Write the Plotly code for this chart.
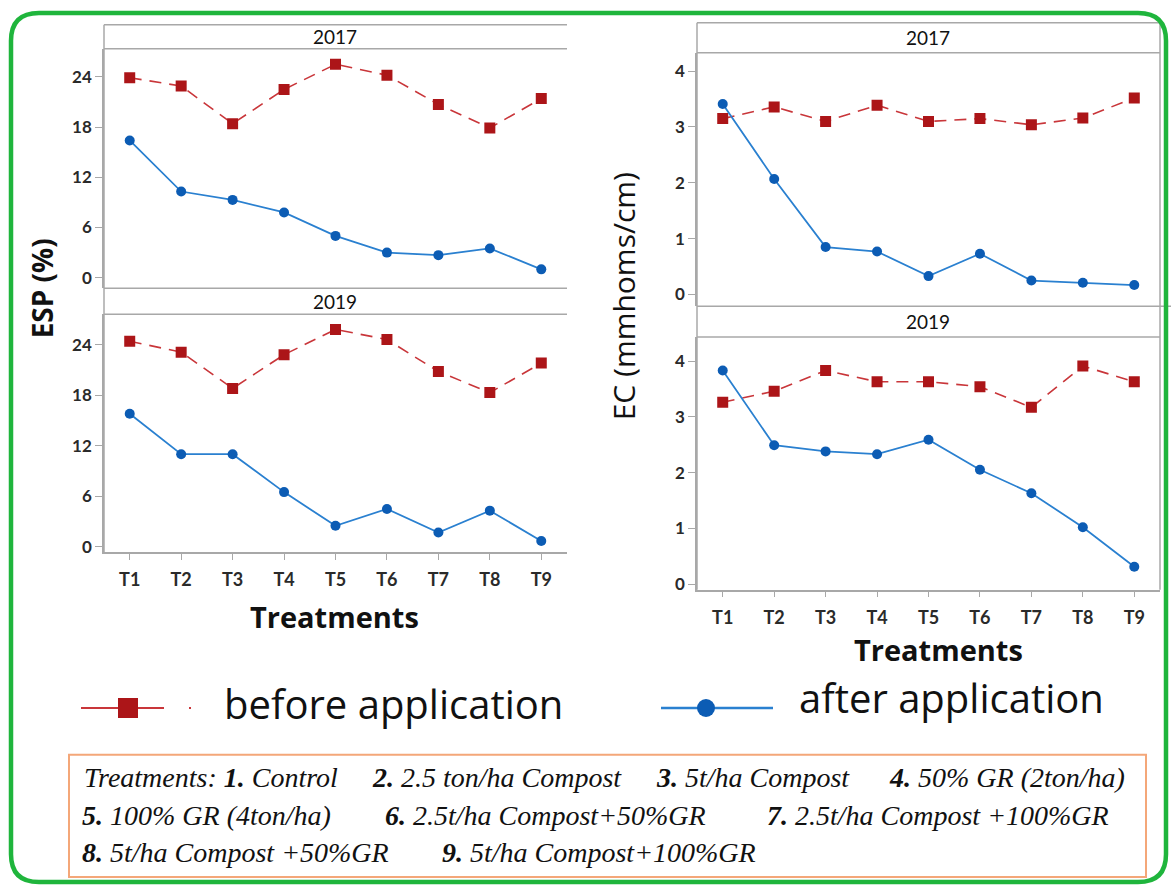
import plotly.graph_objects as go

W, H = 1171, 890

treatments = ["T1", "T2", "T3", "T4", "T5", "T6", "T7", "T8", "T9"]
esp_2017_before = [23.9, 22.9, 18.4, 22.5, 25.5, 24.2, 20.7, 17.9, 21.4]
esp_2017_after = [16.4, 10.3, 9.3, 7.8, 5.0, 3.0, 2.7, 3.5, 1.0]
esp_2019_before = [24.4, 23.1, 18.8, 22.8, 25.8, 24.6, 20.8, 18.3, 21.8]
esp_2019_after = [15.8, 11.0, 11.0, 6.5, 2.5, 4.5, 1.7, 4.3, 0.7]
ec_2017_before = [3.15, 3.36, 3.10, 3.39, 3.10, 3.15, 3.04, 3.16, 3.52]
ec_2017_after = [3.41, 2.07, 0.85, 0.77, 0.33, 0.73, 0.25, 0.21, 0.17]
ec_2019_before = [3.26, 3.46, 3.83, 3.63, 3.63, 3.54, 3.17, 3.91, 3.63]
ec_2019_after = [3.83, 2.49, 2.38, 2.33, 2.59, 2.05, 1.63, 1.02, 0.31]
esp_ticks = [0, 6, 12, 18, 24]
ec_ticks = [0, 1, 2, 3, 4]
legend_names = ["before application", "after application"]
treatment_notes = [
    ["Treatments: <b>1.</b> Control", "<b>2.</b> 2.5 ton/ha Compost", "<b>3.</b> 5t/ha Compost", "<b>4.</b> 50% GR (2ton/ha)"],
    ["<b>5.</b> 100% GR (4ton/ha)", "<b>6.</b> 2.5t/ha Compost+50%GR", "<b>7.</b> 2.5t/ha Compost +100%GR"],
    ["<b>8.</b> 5t/ha Compost +50%GR", "<b>9.</b> 5t/ha Compost+100%GR"],
]

RED_LINE = "#c9363a"
RED_MK = "#ac1518"
BLUE_LINE = "#2a80d0"
BLUE_MK = "#0c5cb4"
GRID = "#a8a8a8"


def X(px):
    return px / W


def Y(py):
    return 1 - py / H


panels = [
    ("x", "y", (104, 567), (49, 290), [-1.27, 27.36], esp_ticks, esp_2017_before, esp_2017_after, False),
    ("x2", "y2", (104, 567), (316, 555), [-0.59, 27.6], esp_ticks, esp_2019_before, esp_2019_after, True),
    ("x3", "y3", (697, 1160), (53, 308), [-0.21, 4.33], ec_ticks, ec_2017_before, ec_2017_after, False),
    ("x4", "y4", (697, 1160), (339, 593), [-0.1, 4.43], ec_ticks, ec_2019_before, ec_2019_after, True),
]

fig = go.Figure()
layout = {}
ytickfont = dict(family="Lato", size=17, color="#2a2a2a", weight="bold")
xtickfont = dict(family="Lato", size=18, color="#2a2a2a", weight="bold")

for xa, ya, (x0, x1), (y0, y1), yr, yt, before, after, showx in panels:
    fig.add_trace(go.Scatter(
        x=treatments, y=before, xaxis=xa, yaxis=ya, mode="lines+markers",
        line=dict(color=RED_LINE, width=1.6, dash="12px,8px"),
        marker=dict(symbol="square", size=11, color=RED_MK),
        showlegend=False, name=legend_names[0]))
    fig.add_trace(go.Scatter(
        x=treatments, y=after, xaxis=xa, yaxis=ya, mode="lines+markers",
        line=dict(color=BLUE_LINE, width=1.8),
        marker=dict(symbol="circle", size=10, color=BLUE_MK),
        showlegend=False, name=legend_names[1]))
    xkey = "xaxis" + xa[1:]
    ykey = "yaxis" + ya[1:]
    layout[xkey] = dict(
        domain=[X(x0), X(x1)], anchor=ya, type="category", range=[-0.5, 8.5],
        showgrid=False, zeroline=False, showline=showx, linecolor=GRID, linewidth=1.5,
        ticks="outside" if showx else "", ticklen=6, tickcolor=GRID, ticklabelstandoff=5,
        showticklabels=showx, tickfont=xtickfont, fixedrange=True)
    layout[ykey] = dict(
        domain=[Y(y1), Y(y0)], anchor=xa, range=yr, tickvals=yt,
        showgrid=False, zeroline=False, showline=True, linecolor=GRID, linewidth=1.5,
        ticks="outside", ticklen=7, tickcolor=GRID, tickfont=ytickfont, fixedrange=True)

# overlay axis in pixel units for the hand-drawn legend keys
layout["xaxis5"] = dict(domain=[0, 1], range=[0, W], visible=False, fixedrange=True, anchor="y5")
layout["yaxis5"] = dict(domain=[0, 1], range=[H, 0], visible=False, fixedrange=True, anchor="x5")

fig.add_trace(go.Scatter(x=[81, 164], y=[712, 712], xaxis="x5", yaxis="y5", mode="lines",
                         line=dict(color=RED_LINE, width=2.2), showlegend=False, hoverinfo="skip"))
fig.add_trace(go.Scatter(x=[189, 191], y=[712, 712], xaxis="x5", yaxis="y5", mode="lines",
                         line=dict(color=RED_LINE, width=2.2), showlegend=False, hoverinfo="skip"))
fig.add_trace(go.Scatter(x=[128], y=[712], xaxis="x5", yaxis="y5", mode="markers",
                         marker=dict(symbol="square", size=20, color=RED_MK), showlegend=False, hoverinfo="skip"))
fig.add_trace(go.Scatter(x=[661, 773], y=[712, 712], xaxis="x5", yaxis="y5", mode="lines",
                         line=dict(color=BLUE_LINE, width=2.4), showlegend=False, hoverinfo="skip"))
fig.add_trace(go.Scatter(x=[706], y=[712], xaxis="x5", yaxis="y5", mode="markers",
                         marker=dict(symbol="circle", size=18, color=BLUE_MK), showlegend=False, hoverinfo="skip"))

shapes = []


def hline(px0, px1, py, color=GRID, w=1.5):
    shapes.append(dict(type="line", xref="paper", yref="paper", x0=X(px0), x1=X(px1), y0=Y(py), y1=Y(py),
                       line=dict(color=color, width=w)))


def vline(px, py0, py1, color=GRID, w=1.5):
    shapes.append(dict(type="line", xref="paper", yref="paper", x0=X(px), x1=X(px), y0=Y(py0), y1=Y(py1),
                       line=dict(color=color, width=w)))


hline(104, 567, 25)
hline(104, 567, 49)
hline(104, 567, 290)
hline(104, 567, 316)
vline(104, 25, 555)
hline(697, 1160, 23)
hline(697, 1160, 53)
hline(697, 1171, 308)
hline(697, 1160, 339)
vline(697, 23, 593)
vline(1160, 23, 593)

r = 28
gx0, gx1, gy0, gy1 = 11, 1166, 13, 887
path = (f"M {X(gx0 + r)},{Y(gy0)} L {X(gx1 - r)},{Y(gy0)} Q {X(gx1)},{Y(gy0)} {X(gx1)},{Y(gy0 + r)} "
        f"L {X(gx1)},{Y(gy1 - r)} Q {X(gx1)},{Y(gy1)} {X(gx1 - r)},{Y(gy1)} "
        f"L {X(gx0 + r)},{Y(gy1)} Q {X(gx0)},{Y(gy1)} {X(gx0)},{Y(gy1 - r)} "
        f"L {X(gx0)},{Y(gy0 + r)} Q {X(gx0)},{Y(gy0)} {X(gx0 + r)},{Y(gy0)} Z")
shapes.append(dict(type="path", xref="paper", yref="paper", path=path,
                   line=dict(color="#1fb53c", width=4.5)))

shapes.append(dict(type="rect", xref="paper", yref="paper", x0=X(69), x1=X(1146), y0=Y(882), y1=Y(759),
                   line=dict(color="#f4a779", width=2)))

annotations = []


def ann(text, px, py, size, family="Lato", color="#111111", xanchor="center", angle=0, yanchor="middle"):
    annotations.append(dict(text=text, x=X(px), y=Y(py), xref="paper", yref="paper", showarrow=False,
                            xanchor=xanchor, yanchor=yanchor, textangle=angle,
                            font=dict(family=family, size=size, color=color)))


ann("2017", 335, 37, 19)
ann("2019", 335, 303, 19)
ann("2017", 928, 38, 19)
ann("2019", 928, 323, 19)
ann("<b>ESP (%)</b>", 42, 290, 28, family="Open Sans", angle=-90)
ann("EC (mmhoms/cm)", 623, 298, 30, family="Open Sans", angle=-90)
ann("<b>Treatments</b>", 334, 620, 29, family="Open Sans")
ann("<b>Treatments</b>", 938, 653, 29, family="Open Sans")
ann(legend_names[0], 222, 707, 40, family="Open Sans", xanchor="left")
ann(legend_names[1], 797, 701, 40, family="Open Sans", xanchor="left")

note_x = [[82, 370, 654, 887], [80, 383, 765], [80, 440]]
note_y = [782, 820, 857]
for row, xs, py in zip(treatment_notes, note_x, note_y):
    for t, px in zip(row, xs):
        ann("<i>" + t + "</i>", px, py, 28, family="Liberation Serif", xanchor="left")

fig.update_layout(
    width=W, height=H, margin=dict(l=0, r=0, t=0, b=0),
    paper_bgcolor="white", plot_bgcolor="rgba(0,0,0,0)",
    shapes=shapes, annotations=annotations, showlegend=False, **layout)

fig.write_html("out.html", config={"displayModeBar": False},
               post_script="document.body.style.margin='0';document.body.style.overflow='hidden';")
